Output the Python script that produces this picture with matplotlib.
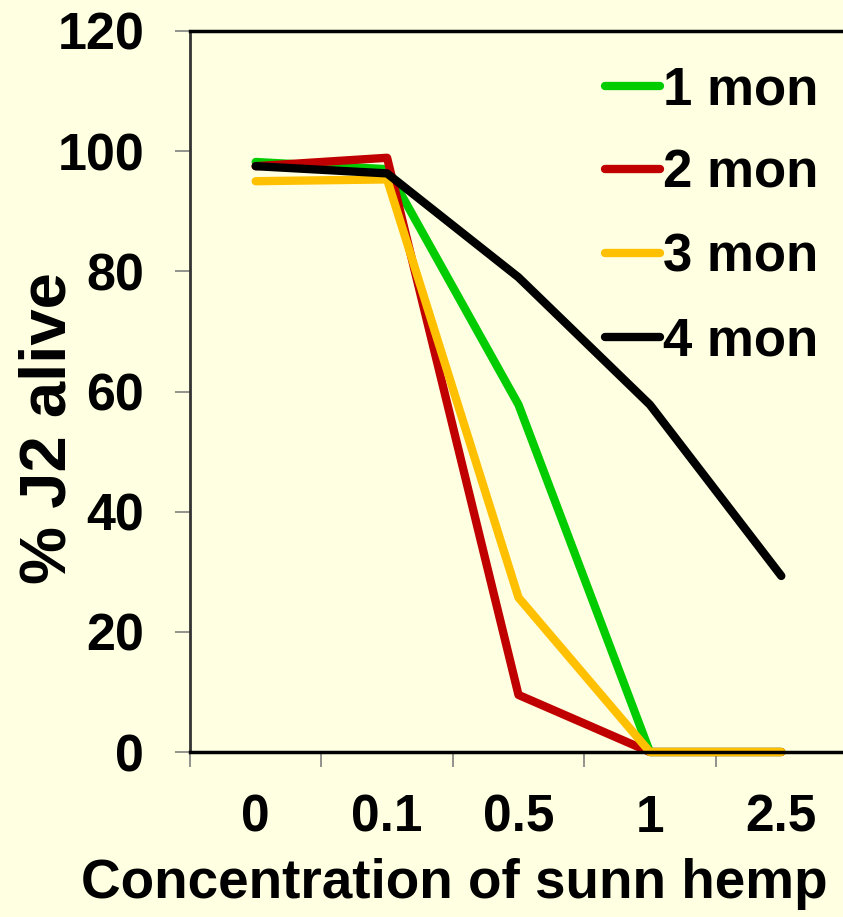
import numpy as np
import matplotlib
matplotlib.use("Agg")
from matplotlib import pyplot as plt

# data
concentrations = ["0", "0.1", "0.5", "1", "2.5"]
series_names = ["1 mon", "2 mon", "3 mon", "4 mon"]
mon1 = [98.2, 97.0, 57.8, 0.0, 0.0]
mon2 = [97.5, 98.9, 9.5, 0.0, 0.0]
mon3 = [95.0, 95.3, 25.7, 0.0, 0.0]
mon4 = [97.5, 96.3, 79.0, 57.8, 29.3]
colors = ["#00CC00", "#C00000", "#FFC000", "#000000"]

bg = "#FFFFE1"
plt.rcParams["font.family"] = ["Liberation Sans", "DejaVu Sans"]
plt.rcParams["font.weight"] = "bold"

fig = plt.figure(figsize=(8.43, 9.17), dpi=100, facecolor=bg)
ax = fig.add_axes([190 / 843, 1 - 752 / 917, 657 / 843, 721 / 917])
ax.set_facecolor(bg)

x = np.arange(len(concentrations))
for vals, name, c in zip([mon1, mon2, mon3, mon4], series_names, colors):
    ax.plot(x, vals, color=c, lw=6, label=name,
            solid_capstyle="round", solid_joinstyle="round", clip_on=False)

ax.set_xlim(-0.5, 4.5)
ax.set_ylim(0, 120)
ax.set_yticks(np.arange(0, 121, 20))
ax.set_xticks(x)
ax.set_xticklabels(concentrations)
ax.set_xticks(np.arange(-0.5, 4.6, 1), minor=True)

ax.tick_params(axis="x", which="major", length=0, pad=30, labelsize=37)
ax.tick_params(axis="x", which="minor", length=11, width=1.2, color="#808080",
               direction="out")
ax.tick_params(axis="y", length=11, width=1.2, color="#808080", pad=22,
               labelsize=37.5)
for lab in ax.get_xticklabels() + ax.get_yticklabels():
    lab.set_fontweight("bold")

for side in ["top", "bottom"]:
    ax.spines[side].set_color("black")
    ax.spines[side].set_linewidth(2.5)
ax.spines["left"].set_color("#333333")
ax.spines["left"].set_linewidth(2)
ax.spines["right"].set_visible(False)

ax.set_ylabel("% J2 alive", fontsize=47, fontweight="bold")
ax.yaxis.set_label_coords((78 - 190) / 657, (752 - 428) / 721)
ax.set_xlabel("Concentration of sunn hemp", fontsize=39.5, fontweight="bold")
ax.xaxis.set_label_coords((454 - 190) / 657, (752 - 858) / 721)

leg = ax.legend(loc="upper left", bbox_to_anchor=(584 / 843, 1 - 44 / 917),
                bbox_transform=fig.transFigure, frameon=False, fontsize=38,
                handlelength=1.04, handletextpad=0.06, labelspacing=0.64,
                borderaxespad=0)
for t in leg.get_texts():
    t.set_fontweight("bold")

fig.savefig("out.png", dpi=100, facecolor=bg)
